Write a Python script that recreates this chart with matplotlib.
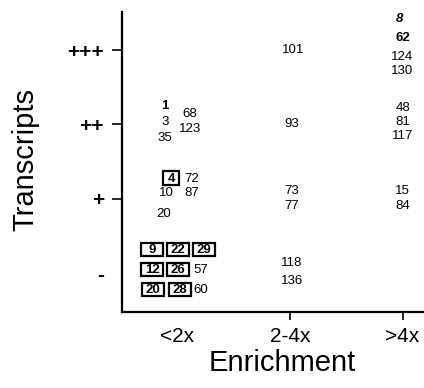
import matplotlib
matplotlib.use("Agg")
import matplotlib.pyplot as plt
from matplotlib.path import Path

plt.rcParams["font.family"] = ["Liberation Sans", "DejaVu Sans"]

## categories
enrich_labels = ["<2x", "2-4x", ">4x"]
transcript_labels = ["-", "+", "++", "+++"]

## clone ids with their enrichment class (index into enrich_labels)
## and transcript class (index into transcript_labels)
clone_ids = ["1", "3", "35", "68", "123",
             "4", "72", "10", "87", "20",
             "9", "22", "29", "12", "26", "57", "20", "28", "60",
             "101", "93", "73", "77", "118", "136",
             "8", "62", "124", "130", "48", "81", "117", "15", "84"]
enrichment = [0, 0, 0, 0, 0,
              0, 0, 0, 0, 0,
              0, 0, 0, 0, 0, 0, 0, 0, 0,
              1, 1, 1, 1, 1, 1,
              2, 2, 2, 2, 2, 2, 2, 2, 2]
transcripts = [2, 2, 2, 2, 2,
               1, 1, 1, 1, 1,
               0, 0, 0, 0, 0, 0, 0, 0, 0,
               3, 2, 1, 1, 0, 0,
               3, 3, 3, 3, 2, 2, 2, 1, 1]
boxed = {5, 10, 11, 12, 13, 14, 16, 17}
bold = {0, 26}
bold_italic = {25}

## where each id sits inside its cell (pixel offsets from the cell centre)
layout = [(-12, 18), (-12, 2), (-12, -14), (13, 10), (13, -5),
          (-6, 20), (15, 20), (-11, 6), (15, 6), (-13, -15),
          (-25, 23), (1, 23), (27, 23), (-25, 3), (1, 3), (24, 3),
          (-24, -17), (3, -17), (24, -17),
          (3, 0), (2, 0), (2, 8), (2, -7), (2, 10), (2, -8),
          (-3, 31), (0, 12), (0, -7), (0, -21),
          (0, 16), (0, 2), (0, -12), (0, 8), (0, -7)]


def make_box(wfac):
    # fixed-size frame around a label, sized from the font size in pixels
    def box(x0, y0, width, height, mutation_size):
        cx = x0 + width / 2
        cy = y0 + height / 2 + 0.08 * mutation_size
        w = wfac * mutation_size
        h = 1.02 * mutation_size
        return Path([(cx - w / 2, cy - h / 2), (cx + w / 2, cy - h / 2),
                     (cx + w / 2, cy + h / 2), (cx - w / 2, cy + h / 2),
                     (cx - w / 2, cy - h / 2)], closed=True)
    return box


fig = plt.figure(figsize=(4.24, 3.88), dpi=100)
ax = fig.add_axes([0.288, 0.196, 0.712, 0.773])
ax.set_xlim(0.513, 3.19)
ax.set_ylim(-0.517, 3.51)

for i, cid in enumerate(clone_ids):
    x = enrichment[i] + 1
    y = transcripts[i]
    dx, dy = layout[i]
    kw = dict(fontsize=9.5, ha="center", va="center")
    if i in boxed:
        kw["fontweight"] = "bold"
        wfac = 1.2 if cid == "4" else 1.65
        kw["bbox"] = dict(boxstyle=make_box(wfac), fc="white", ec="black", lw=1.6)
    if i in bold:
        kw["fontweight"] = "bold"
    if i in bold_italic:
        kw["fontweight"] = "bold"
        kw["fontstyle"] = "italic"
    ax.annotate(cid, xy=(x, y), xytext=(dx, dy), textcoords="offset pixels", **kw)

ax.set_xticks([1, 2, 3])
ax.set_xticklabels(enrich_labels, fontsize=15)
ax.set_yticks([0, 1, 2, 3])
ax.set_yticklabels(transcript_labels, fontsize=15, fontweight="bold")

for s in ["top", "right"]:
    ax.spines[s].set_visible(False)
for s in ["left", "bottom"]:
    ax.spines[s].set_linewidth(1.6)

ax.tick_params(axis="x", length=6, width=1.2, pad=5)
ax.tick_params(axis="y", length=7, width=1.2, pad=6)
ax.xaxis.get_major_ticks()[0].tick1line.set_visible(False)
ax.yaxis.get_major_ticks()[0].tick1line.set_visible(False)

ax.set_xlabel("Enrichment", fontsize=21)
ax.xaxis.set_label_coords(0.53, -0.17)
ax.xaxis.label.set_va("center")
ax.set_ylabel("Transcripts", fontsize=21)
ax.yaxis.set_label_coords(-0.321, 0.507)
ax.yaxis.label.set_va("center")

fig.savefig("out.png", dpi=100)
